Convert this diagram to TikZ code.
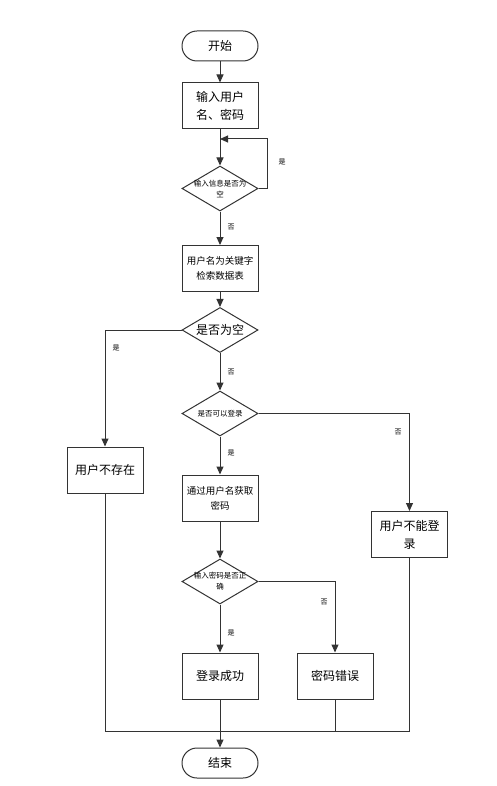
\documentclass[tikz,border=0pt]{standalone}
\usepackage{fontspec}
\newfontfamily\cjk{Noto Sans CJK SC}
\usetikzlibrary{arrows.meta,shapes.geometric}
\begin{document}
\begin{tikzpicture}[x=1pt,y=-1pt,
  line/.style={draw=black!80,line width=1pt},
  arr/.style={line,-{Triangle[length=8pt,width=7pt]}},
  proc/.style={draw=black!80,line width=1pt,fill=white,minimum width=76pt,minimum height=46pt,inner sep=2pt,align=center,font=\cjk\fontsize{12}{18}\selectfont},
  procs/.style={proc,font=\cjk\fontsize{9.5}{15}\selectfont},
  term/.style={draw=black!80,line width=1pt,fill=white,rounded corners=15pt,minimum width=76pt,minimum height=30pt,font=\cjk\fontsize{12}{14}\selectfont},
  dia/.style={diamond,draw=black!80,line width=1pt,fill=white,minimum width=76pt,minimum height=45pt,inner sep=0pt},
  dtext/.style={align=center,font=\cjk\fontsize{7.5}{11}\selectfont,inner sep=0pt},
  dtextL/.style={align=center,font=\cjk\fontsize{12}{14}\selectfont,inner sep=0pt},
  lab/.style={font=\cjk\fontsize{7}{8}\selectfont,inner sep=0pt}]
\useasboundingbox (0,0) rectangle (496,786);

\node[term] (start) at (220,46) {开始};
\node[proc] (in) at (220,106) {输入用户\\名、密码};
\node[dia] (d1) at (220,188.5) {};
\node[dtext] at (220,188.5) {输入信息是否为\\空};
\node[procs] (q) at (220,268.5) {用户名为关键字\\检索数据表};
\node[dia] (d2) at (220,330) {};
\node[dtextL] at (220,330) {是否为空};
\node[dia] (d3) at (220,413.5) {};
\node[dtext] at (220,413.5) {是否可以登录};
\node[procs] (get) at (220,498) {通过用户名获取\\密码};
\node[proc] (ne) at (105,470) {用户不存在};
\node[proc] (nl) at (409.5,534.5) {用户不能登\\录};
\node[dia] (d4) at (220,581.5) {};
\node[dtext] at (220,581.5) {输入密码是否正\\确};
\node[proc] (ok) at (220,676) {登录成功};
\node[proc] (err) at (335,676) {密码错误};
\node[term] (end) at (220,763) {结束};

\coordinate (loop) at (220,139);
\coordinate (m) at (220,731);

\draw[arr] (start) -- (in);
\draw[arr] (in) -- (d1);
\draw[arr] (d1.east) -- (267,188.5) -- (267,139) -- (loop);
\node[lab] at (282,162) {是};
\draw[arr] (d1) -- (q);
\node[lab] at (231,227) {否};
\draw[arr] (q) -- (d2);
\draw[arr] (d2.west) -| (ne.north);
\node[lab] at (116,348) {是};
\draw[arr] (d2) -- (d3);
\node[lab] at (231,372) {否};
\draw[arr] (d3.east) -| (nl.north);
\node[lab] at (398,432) {否};
\draw[arr] (d3) -- (get);
\node[lab] at (231,453) {是};
\draw[arr] (get) -- (d4);
\draw[arr] (d4.east) -| (err.north);
\node[lab] at (324,602) {否};
\draw[arr] (d4) -- (ok);
\node[lab] at (231,633) {是};

\draw[line] (ne.south) |- (m);
\draw[line] (nl.south) |- (m);
\draw[line] (err.south) |- (m);
\draw[line] (ok.south) -- (m);
\draw[arr] (m) -- (end);
\end{tikzpicture}
\end{document}
